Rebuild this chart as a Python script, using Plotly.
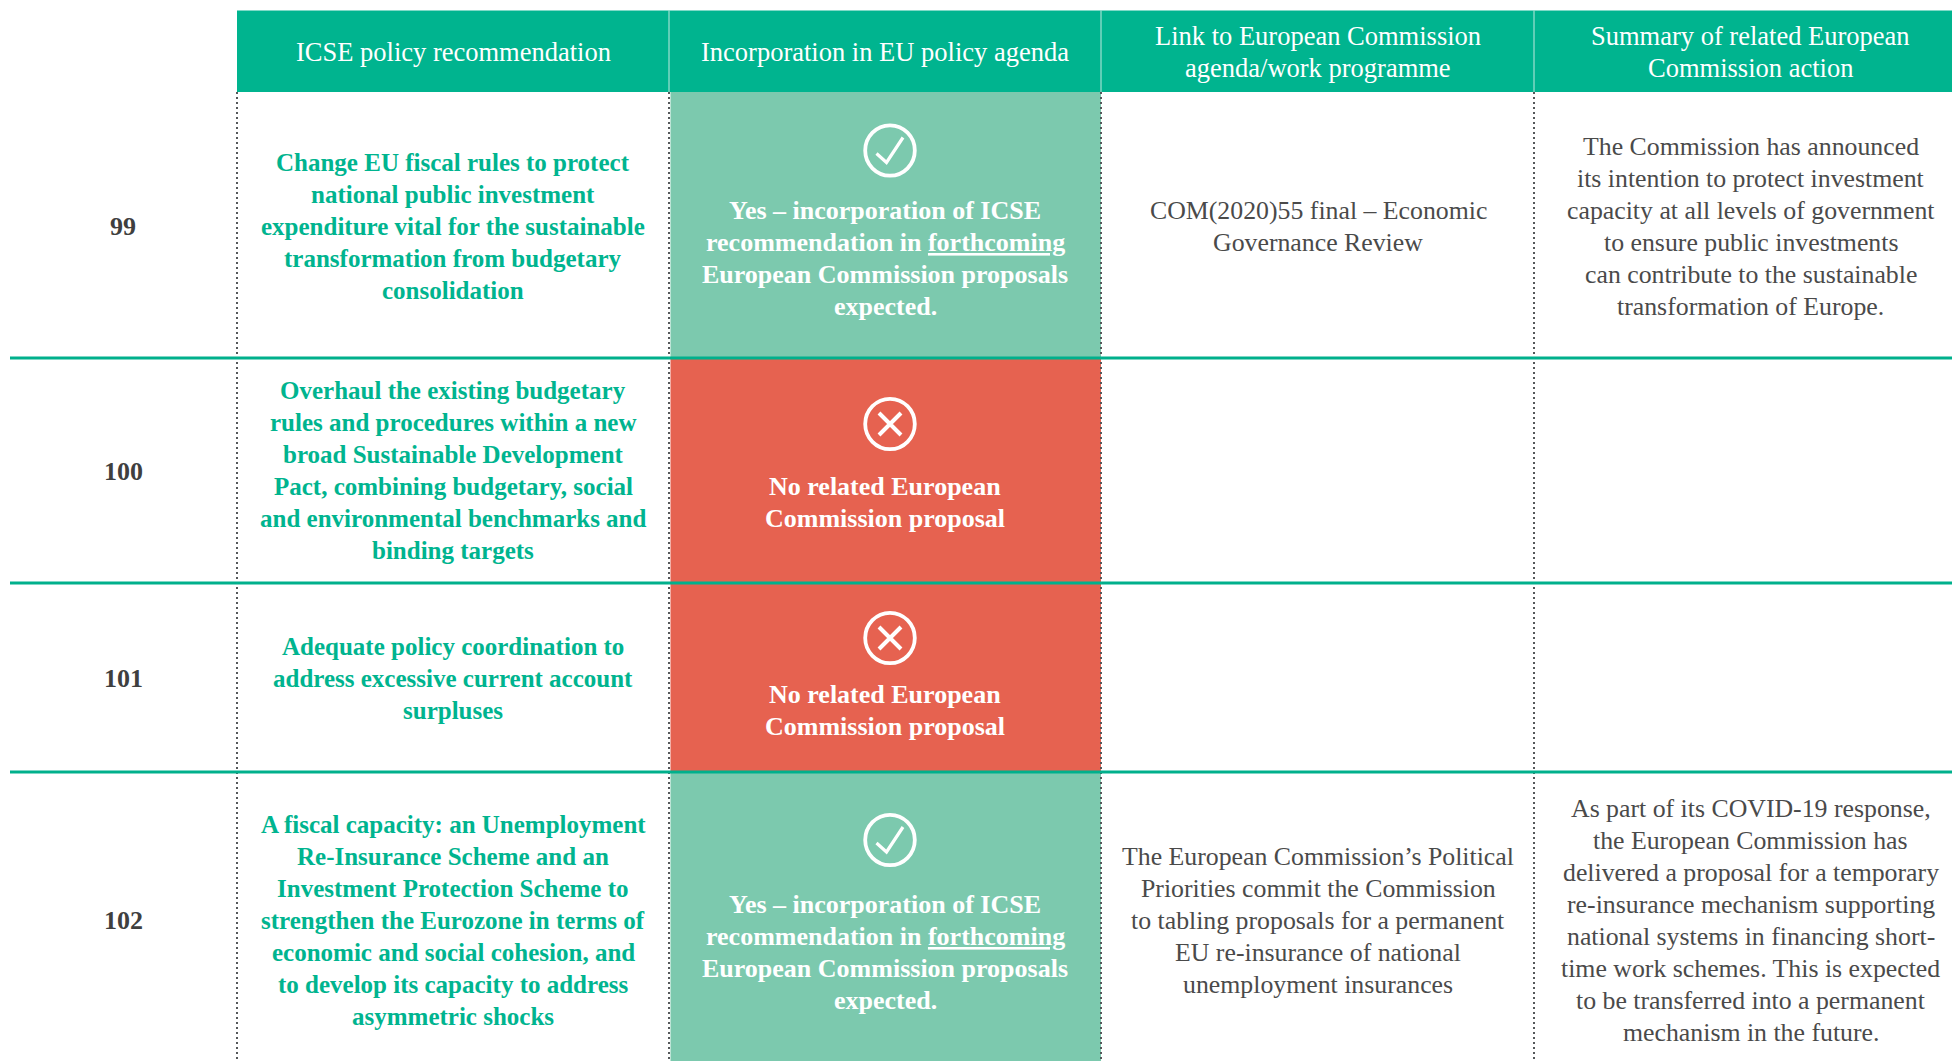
import plotly.graph_objects as go

# ---------- content ----------
row_labels = ["99", "100", "101", "102"]
headers = [
    ["ICSE policy recommendation"],
    ["Incorporation in EU policy agenda"],
    ["Link to European Commission", "agenda/work programme"],
    ["Summary of related European", "Commission action"],
]
recommendations = [
    ["Change EU fiscal rules to protect", "national public investment",
     "expenditure vital for the sustainable", "transformation from budgetary", "consolidation"],
    ["Overhaul the existing budgetary", "rules and procedures within a new",
     "broad Sustainable Development", "Pact, combining budgetary, social",
     "and environmental benchmarks and", "binding targets"],
    ["Adequate policy coordination to", "address excessive current account", "surpluses"],
    ["A fiscal capacity: an Unemployment", "Re-Insurance Scheme and an",
     "Investment Protection Scheme to", "strengthen the Eurozone in terms of",
     "economic and social cohesion, and", "to develop its capacity to address", "asymmetric shocks"],
]
status_yes = ["Yes – incorporation of ICSE", "recommendation in <u>forthcoming</u>",
              "European Commission proposals", "expected."]
status_no = ["No related European", "Commission proposal"]
incorporated = [True, False, False, True]
links = [
    ["COM(2020)55 final – Economic", "Governance Review"],
    [],
    [],
    ["The European Commission’s Political", "Priorities commit the Commission",
     "to tabling proposals for a permanent", "EU re-insurance of national",
     "unemployment insurances"],
]
summaries = [
    ["The Commission has announced", "its intention to protect investment",
     "capacity at all levels of government", "to ensure public investments",
     "can contribute to the sustainable", "transformation of Europe."],
    [],
    [],
    ["As part of its COVID-19 response,", "the European Commission has",
     "delivered a proposal for a temporary", "re-insurance mechanism supporting",
     "national systems in financing short-", "time work schemes. This is expected",
     "to be transferred into a permanent", "mechanism in the future."],
]

# ---------- layout ----------
W, H = 1952, 1061
col_edges = [237, 669, 1101, 1534, 1952]
col_centers = [453, 885, 1318, 1750.5]
label_x = 123
header_top, header_bottom = 10.5, 92
row_edges = [92, 358, 583, 772, 1061]
rule_left = 10
label_y = [227, 472, 679, 921]
rec_first = [163, 391, 647, 825]
status_first = [211, 487, 695, 905]
link_first = [211, None, None, 857]
summary_first = [147, None, None, 809.5]
icon_x = 890
icon_y = [150.5, 424, 638, 840]
pitch = 32
FONT = "Liberation Serif"
SIZE_HEADER = 26.5
SIZE_BODY = 25.8
SIZE_GREEN = 25
SIZE_WHITE = 26
TEXT_DY = -1

GREEN = "#00B48F"
RULE = "#00B08C"
YES_BG = "#7CC9AE"
NO_BG = "#E66250"
DARK = "#4A4A4A"
DOT = "#55585A"

shapes, notes = [], []


def put(text, x, y, color, bold=False, size=SIZE_BODY):
    notes.append(dict(
        x=x, y=y + TEXT_DY, xref="x", yref="y", text=f"<b>{text}</b>" if bold else text,
        showarrow=False, xanchor="center", yanchor="middle",
        font=dict(family=FONT, size=size, color=color),
    ))


def block(lines, x, first, color, bold=False, size=SIZE_BODY):
    for i, line in enumerate(lines):
        put(line, x, first + i * pitch, color, bold, size)


# cells
shapes.append(dict(type="rect", x0=col_edges[0], x1=W, y0=header_top, y1=header_bottom,
                   fillcolor=GREEN, line_width=0, layer="below"))
for i, yes in enumerate(incorporated):
    shapes.append(dict(type="rect", x0=col_edges[1] + 1.5, x1=col_edges[2],
                       y0=row_edges[i], y1=row_edges[i + 1],
                       fillcolor=YES_BG if yes else NO_BG, line_width=0, layer="below"))

# header separators
for x in col_edges[1:4]:
    shapes.append(dict(type="line", x0=x, x1=x, y0=header_top, y1=header_bottom,
                       line=dict(color="#BFE9DE", width=1)))

# dotted column rules
for x in col_edges[:4]:
    shapes.append(dict(type="line", x0=x, x1=x, y0=header_bottom, y1=H,
                       line=dict(color=DOT, width=2, dash="2px,3px")))

# horizontal rules
for y in row_edges[1:4]:
    shapes.append(dict(type="line", x0=rule_left, x1=W, y0=y, y1=y,
                       line=dict(color=RULE, width=3)))

# icons
for yes, cy in zip(incorporated, icon_y):
    shapes.append(dict(type="circle", x0=icon_x - 24.8, x1=icon_x + 24.8, y0=cy - 25.2, y1=cy + 25.2,
                       line=dict(color="white", width=3.8)))
    if yes:
        path = f"M {icon_x-13.5} {cy+3} L {icon_x-3.5} {cy+12} L {icon_x+13} {cy-13}"
    else:
        path = (f"M {icon_x-11} {cy-11} L {icon_x+11} {cy+11} "
                f"M {icon_x+11} {cy-11} L {icon_x-11} {cy+11}")
    shapes.append(dict(type="path", path=path, line=dict(color="white", width=4 if not yes else 3.2)))

# text
for col, lines in zip(col_centers, headers):
    if len(lines) == 1:
        put(lines[0], col, 53, "white", size=SIZE_HEADER)
    else:
        block(lines, col, 37, "white", size=SIZE_HEADER)
for i, lab in enumerate(row_labels):
    put(lab, label_x, label_y[i], "#3F3F3F", bold=True, size=SIZE_WHITE)
    block(recommendations[i], col_centers[0], rec_first[i], GREEN, bold=True, size=SIZE_GREEN)
    block(status_yes if incorporated[i] else status_no, col_centers[1], status_first[i], "white",
          bold=True, size=SIZE_WHITE)
    if links[i]:
        block(links[i], col_centers[2], link_first[i], DARK)
    if summaries[i]:
        block(summaries[i], col_centers[3], summary_first[i], DARK)

fig = go.Figure(go.Scatter(x=[], y=[], hoverinfo="skip", showlegend=False))
fig.update_layout(
    width=W, height=H, margin=dict(l=0, r=0, t=0, b=0),
    paper_bgcolor="white", plot_bgcolor="white",
    xaxis=dict(range=[0, W], visible=False, fixedrange=True),
    yaxis=dict(range=[H, 0], visible=False, fixedrange=True),
    shapes=shapes, annotations=notes, showlegend=False,
)
fig.write_html("out.html", config=dict(displayModeBar=False),
               post_script="document.body.style.margin='0';document.body.style.overflow='hidden';")
